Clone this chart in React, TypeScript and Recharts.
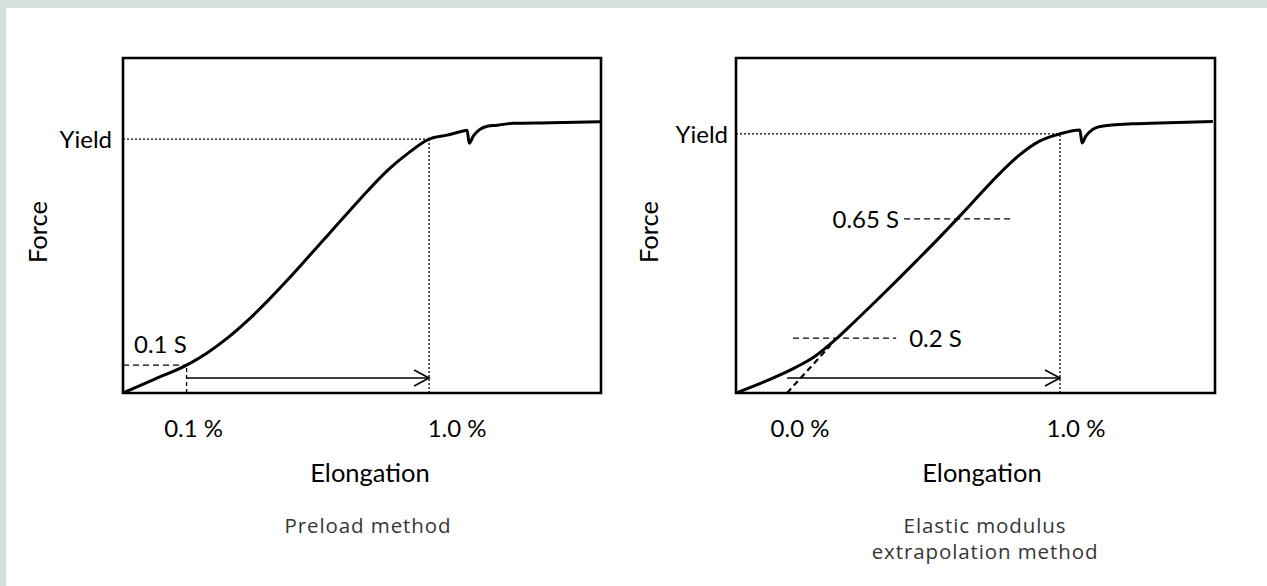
import React from 'react';
import {
  LineChart,
  Line,
  XAxis,
  YAxis,
  ReferenceLine,
  ReferenceArea,
  ReferenceDot
} from 'recharts';

// Left panel: preload method. Elongation in %, force relative to yield (S = 1)
const leftElongation = [-0.136, -0.018, 0.1, 0.175, 0.25, 0.325, 0.4, 0.475, 0.55, 0.625, 0.7, 0.775, 0.85, 0.925, 1.0, 1.067, 1.126, 1.141, 1.149, 1.164, 1.216, 1.253, 1.312, 1.453, 1.635];
const leftForce = [0, 0.055, 0.11, 0.157, 0.215, 0.284, 0.362, 0.446, 0.534, 0.623, 0.712, 0.8, 0.881, 0.947, 1.0, 1.016, 1.032, 1.035, 0.984, 1.012, 1.051, 1.055, 1.063, 1.065, 1.069];
const leftDomainX = [-0.136, 1.638];
const leftDomainY = [0, 1.32];
const leftTicks = [0.1, 1.0];
const leftTickLabels = ['0.1 %', '1.0 %'];
const preloadLevel = 0.11;
const leftArrowLevel = 0.059;

// Right panel: elastic modulus extrapolation method
const rightElongation = [-0.187, -0.08, 0.03, 0.1, 0.175, 0.25, 0.325, 0.4, 0.475, 0.55, 0.625, 0.7, 0.775, 0.85, 0.925, 1.0, 1.073, 1.081, 1.095, 1.147, 1.267, 1.366, 1.56];
const rightForce = [0, 0.045, 0.098, 0.14, 0.204, 0.278, 0.354, 0.432, 0.511, 0.591, 0.674, 0.759, 0.843, 0.917, 0.972, 1.0, 1.015, 0.965, 0.992, 1.029, 1.039, 1.042, 1.048];
const rightDomainX = [-0.187, 1.568];
const rightDomainY = [0, 1.293];
const rightTicks = [0.0, 1.0];
const rightTickLabels = ['0.0 %', '1.0 %'];
const lowLevel = { force: 0.212, from: 0.022, to: 0.4, label: '0.2 S' };
const highLevel = { force: 0.672, from: 0.429, to: 0.817, label: '0.65 S' };
const extrapolation = [{ x: 0, y: 0 }, { x: 0.16, y: 0.185 }];
const rightArrowLevel = 0.058;

const yieldLevel = 1.0;

const CHART_FONT = 'Lato, "Open Sans", sans-serif';
const CAPTION_FONT = '"Open Sans", "Noto Sans", sans-serif';

const toRows = (xs: number[], ys: number[]) => xs.map((e, i) => ({ e, f: ys[i] }));

// text placed relative to the label viewBox of a reference element
const TextAt = (props: any) => {
  const { viewBox, text, at = 'left', dx = 0, dy = 0, anchor = 'middle', size = 24 } = props;
  if (!viewBox) return null;
  const { x, y, width = 0, height = 0 } = viewBox;
  let px = x;
  let py = y + height / 2;
  if (at === 'right') px = x + width;
  if (at === 'bottom') {
    px = x + width / 2;
    py = y + height;
  }
  return (
    <text
      x={px + dx}
      y={py + dy + size * 0.36}
      textAnchor={anchor}
      fontFamily={CHART_FONT}
      fontSize={size}
      fill="#000"
    >
      {text}
    </text>
  );
};

const ArrowShape = (p: any) => (
  <g>
    <line x1={p.x1} y1={p.y1} x2={p.x2} y2={p.y2} stroke="#000" strokeWidth={1.6} />
    <polyline
      points={`${p.x2 - 15},${p.y2 - 8} ${p.x2},${p.y2} ${p.x2 - 15},${p.y2 + 8}`}
      fill="none"
      stroke="#000"
      strokeWidth={1.6}
    />
  </g>
);

const LeftChart = () => (
  <LineChart
    width={640}
    height={586}
    data={toRows(leftElongation, leftForce)}
    margin={{ top: 58, left: 123, right: 39, bottom: 193 }}
  >
    <XAxis type="number" dataKey="e" domain={leftDomainX} hide allowDataOverflow />
    <YAxis type="number" domain={leftDomainY} hide allowDataOverflow />
    <ReferenceArea
      x1={leftDomainX[0]}
      x2={leftDomainX[1]}
      y1={leftDomainY[0]}
      y2={leftDomainY[1]}
      fill="none"
      fillOpacity={0}
      stroke="#000"
      strokeWidth={2.6}
    />
    <ReferenceLine
      segment={[{ x: leftDomainX[0], y: yieldLevel }, { x: leftTicks[1], y: yieldLevel }]}
      stroke="#000"
      strokeWidth={1.3}
      strokeDasharray="2 2"
      label={<TextAt text="Yield" at="left" dx={-11} anchor="end" />}
    />
    <ReferenceLine
      segment={[{ x: leftTicks[1], y: 0 }, { x: leftTicks[1], y: yieldLevel }]}
      stroke="#000"
      strokeWidth={1.3}
      strokeDasharray="2 2"
    />
    <ReferenceLine
      segment={[{ x: leftDomainX[0], y: preloadLevel }, { x: leftTicks[0], y: preloadLevel }]}
      stroke="#000"
      strokeWidth={1.3}
      strokeDasharray="6 4"
      label={<TextAt text="0.1 S" at="left" dx={11} dy={-21} anchor="start" />}
    />
    <ReferenceLine
      segment={[{ x: leftTicks[0], y: 0 }, { x: leftTicks[0], y: preloadLevel }]}
      stroke="#000"
      strokeWidth={1.3}
      strokeDasharray="4 3"
    />
    <ReferenceLine
      segment={[{ x: leftTicks[0], y: leftArrowLevel }, { x: leftTicks[1], y: leftArrowLevel }]}
      shape={ArrowShape}
    />
    <ReferenceDot
      x={leftTicks[0]}
      y={0}
      r={0}
      fill="none"
      stroke="none"
      label={<TextAt text={leftTickLabels[0]} dx={7} dy={35} />}
    />
    <ReferenceDot
      x={leftTicks[1]}
      y={0}
      r={0}
      fill="none"
      stroke="none"
      label={<TextAt text={leftTickLabels[1]} dx={28} dy={35} />}
    />
    <Line
      type="monotone"
      dataKey="f"
      stroke="#000"
      strokeWidth={3}
      dot={false}
      isAnimationActive={false}
    />
  </LineChart>
);

const RightChart = () => (
  <LineChart
    width={627}
    height={586}
    data={toRows(rightElongation, rightForce)}
    margin={{ top: 58, left: 96, right: 52, bottom: 193 }}
  >
    <XAxis type="number" dataKey="e" domain={rightDomainX} hide allowDataOverflow />
    <YAxis type="number" domain={rightDomainY} hide allowDataOverflow />
    <ReferenceArea
      x1={rightDomainX[0]}
      x2={rightDomainX[1]}
      y1={rightDomainY[0]}
      y2={rightDomainY[1]}
      fill="none"
      fillOpacity={0}
      stroke="#000"
      strokeWidth={2.6}
    />
    <ReferenceLine
      segment={[{ x: rightDomainX[0], y: yieldLevel }, { x: rightTicks[1], y: yieldLevel }]}
      stroke="#000"
      strokeWidth={1.3}
      strokeDasharray="2 2"
      label={<TextAt text="Yield" at="left" dx={-8} anchor="end" />}
    />
    <ReferenceLine
      segment={[{ x: rightTicks[1], y: 0 }, { x: rightTicks[1], y: yieldLevel }]}
      stroke="#000"
      strokeWidth={1.3}
      strokeDasharray="2 2"
    />
    <ReferenceLine
      segment={[{ x: highLevel.from, y: highLevel.force }, { x: highLevel.to, y: highLevel.force }]}
      stroke="#000"
      strokeWidth={1.3}
      strokeDasharray="6 4"
      label={<TextAt text={highLevel.label} at="left" dx={-5} anchor="end" />}
    />
    <ReferenceLine
      segment={[{ x: lowLevel.from, y: lowLevel.force }, { x: lowLevel.to, y: lowLevel.force }]}
      stroke="#000"
      strokeWidth={1.3}
      strokeDasharray="6 4"
      label={<TextAt text={lowLevel.label} at="right" dx={13} anchor="start" />}
    />
    <ReferenceLine
      segment={extrapolation}
      stroke="#000"
      strokeWidth={2.2}
      strokeDasharray="6 4"
    />
    <ReferenceLine
      segment={[{ x: rightTicks[0], y: rightArrowLevel }, { x: rightTicks[1], y: rightArrowLevel }]}
      shape={ArrowShape}
    />
    <ReferenceDot
      x={rightTicks[0]}
      y={0}
      r={0}
      fill="none"
      stroke="none"
      label={<TextAt text={rightTickLabels[0]} dx={13} dy={35} />}
    />
    <ReferenceDot
      x={rightTicks[1]}
      y={0}
      r={0}
      fill="none"
      stroke="none"
      label={<TextAt text={rightTickLabels[1]} dx={16} dy={35} />}
    />
    <Line
      type="monotone"
      dataKey="f"
      stroke="#000"
      strokeWidth={3}
      dot={false}
      isAnimationActive={false}
    />
  </LineChart>
);

const App = () => (
  <div
    style={{
      position: 'absolute',
      left: 0,
      top: 0,
      width: 1267,
      height: 586,
      background: '#d6dfdd',
      overflow: 'hidden'
    }}
  >
    <div style={{ position: 'absolute', left: 6, top: 8, right: 0, bottom: 0, background: '#fff' }} />
    <div style={{ position: 'absolute', left: 0, top: 0 }}>
      <LeftChart />
    </div>
    <div style={{ position: 'absolute', left: 640, top: 0 }}>
      <RightChart />
    </div>
    {/* axis titles and captions */}
    <svg
      width={1267}
      height={586}
      style={{ position: 'absolute', left: 0, top: 0, pointerEvents: 'none' }}
    >
      <g fontFamily={CHART_FONT} fontSize={25.5} fill="#000" textAnchor="middle">
        <text x={0} y={0} transform="translate(47 232) rotate(-90)">Force</text>
        <text x={0} y={0} transform="translate(658 232) rotate(-90)">Force</text>
        <text x={370} y={482}>Elongation</text>
        <text x={982} y={482}>Elongation</text>
      </g>
      <g fontFamily={CAPTION_FONT} fontSize={20.5} fill="#363636" textAnchor="middle" letterSpacing={0.9}>
        <text x={368} y={533}>Preload method</text>
        <text x={985} y={533}>Elastic modulus</text>
        <text x={985} y={559}>extrapolation method</text>
      </g>
    </svg>
  </div>
);

export default App;
